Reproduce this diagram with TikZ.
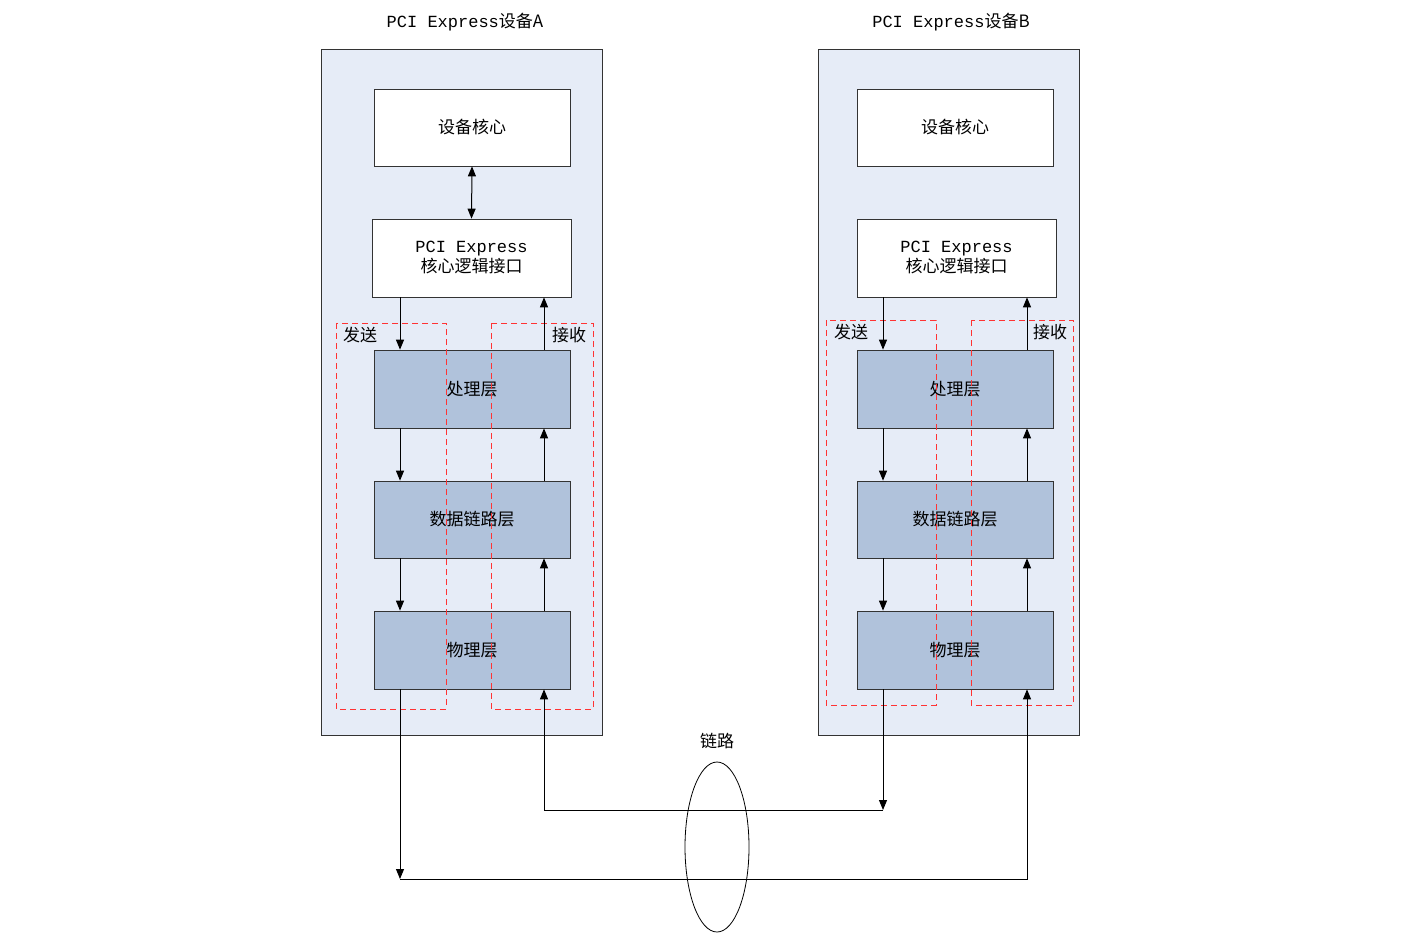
\documentclass[tikz,border=0pt]{standalone}
\usepackage{fontspec}
\setmainfont{Noto Sans CJK SC}
\setmonofont{Liberation Mono}
\usetikzlibrary{arrows.meta}
\definecolor{outer}{HTML}{E6ECF7}
\definecolor{layer}{HTML}{B0C2DB}
\begin{document}
\begin{tikzpicture}[x=1pt,y=-1pt,
  dev/.style={draw=black!80,fill=outer,line width=0.7pt},
  wbox/.style={draw=black!80,fill=white,line width=0.7pt,align=center,font=\fontsize{17}{20}\selectfont},
  lbox/.style={draw=black!80,fill=layer,line width=0.7pt,font=\fontsize{17}{20}\selectfont},
  dsh/.style={draw=red!80,dashed,dash pattern=on 6pt off 4pt,line width=0.6pt},
  arr/.style={-{Triangle[length=10pt,width=8pt]},line width=1pt},
  lab/.style={font=\fontsize{17}{20}\selectfont}]
\useasboundingbox (0,0) rectangle (1420,950);
% devices
\path[dev] (321,49) rectangle (602,735);
\path[dev] (818,49) rectangle (1079,735);
\node[lab] (tA) at (465,22) {\texttt{PCI Express}设备A};
\node[lab] (tB) at (951,22) {\texttt{PCI Express}设备B};
% A
\node[wbox,minimum width=196pt,minimum height=77pt] (coreA) at (472,127.5) {设备核心};
\node[wbox,minimum width=199pt,minimum height=78pt] (pciA) at (471.5,258) {\texttt{PCI Express}\\核心逻辑接口};
\node[lbox,minimum width=196pt,minimum height=78pt] (tlA) at (472,389) {处理层};
\node[lbox,minimum width=196pt,minimum height=77pt] (dlA) at (472,519.5) {数据链路层};
\node[lbox,minimum width=196pt,minimum height=78pt] (phA) at (472,650) {物理层};
% B
\node[wbox,minimum width=196pt,minimum height=77pt] (coreB) at (955,127.5) {设备核心};
\node[wbox,minimum width=199pt,minimum height=78pt] (pciB) at (956.5,258) {\texttt{PCI Express}\\核心逻辑接口};
\node[lbox,minimum width=196pt,minimum height=78pt] (tlB) at (955,389) {处理层};
\node[lbox,minimum width=196pt,minimum height=77pt] (dlB) at (955,519.5) {数据链路层};
\node[lbox,minimum width=196pt,minimum height=78pt] (phB) at (955,650) {物理层};
% dashed
\path[dsh] (336,323) rectangle (446,709);
\path[dsh] (491,323) rectangle (593,709);
\path[dsh] (826,320) rectangle (936,705);
\path[dsh] (971,320) rectangle (1073,705);
\node[lab] (sA) at (360,335) {发送};
\node[lab] (rA) at (569,335) {接收};
\node[lab] (sB) at (851,332) {发送};
\node[lab] (rB) at (1050,332) {接收};
% arrows A
\draw[{Triangle[length=10pt,width=8pt]}-{Triangle[length=10pt,width=8pt]},line width=1pt] (coreA.south) -- (pciA.north);
\draw[arr] (pciA.south -| 400,0) -- (tlA.north -| 400,0);
\draw[arr] (tlA.south -| 400,0) -- (dlA.north -| 400,0);
\draw[arr] (dlA.south -| 400,0) -- (phA.north -| 400,0);
\draw[arr] (tlA.north -| 544,0) -- (pciA.south -| 544,0);
\draw[arr] (dlA.north -| 544,0) -- (tlA.south -| 544,0);
\draw[arr] (phA.north -| 544,0) -- (dlA.south -| 544,0);
% arrows B
\draw[arr] (pciB.south -| 883,0) -- (tlB.north -| 883,0);
\draw[arr] (tlB.south -| 883,0) -- (dlB.north -| 883,0);
\draw[arr] (dlB.south -| 883,0) -- (phB.north -| 883,0);
\draw[arr] (tlB.north -| 1027,0) -- (pciB.south -| 1027,0);
\draw[arr] (dlB.north -| 1027,0) -- (tlB.south -| 1027,0);
\draw[arr] (phB.north -| 1027,0) -- (dlB.south -| 1027,0);
% links
\coordinate (l1) at (400,879);
\coordinate (l2) at (1027,879);
\coordinate (m1) at (544,810);
\coordinate (m2) at (883,810);
\draw[arr] (phA.south -| l1) -- (l1);
\draw[arr] (l1) -- (l2) -- (phB.south -| l2);
\draw[arr] (phB.south -| m2) -- (m2);
\draw[arr] (m2) -- (m1) -- (phA.south -| m1);
\draw[line width=0.8pt] (717,847) ellipse [x radius=32, y radius=85];
\node[lab] (lk) at (717,741) {链路};
\end{tikzpicture}
\end{document}
